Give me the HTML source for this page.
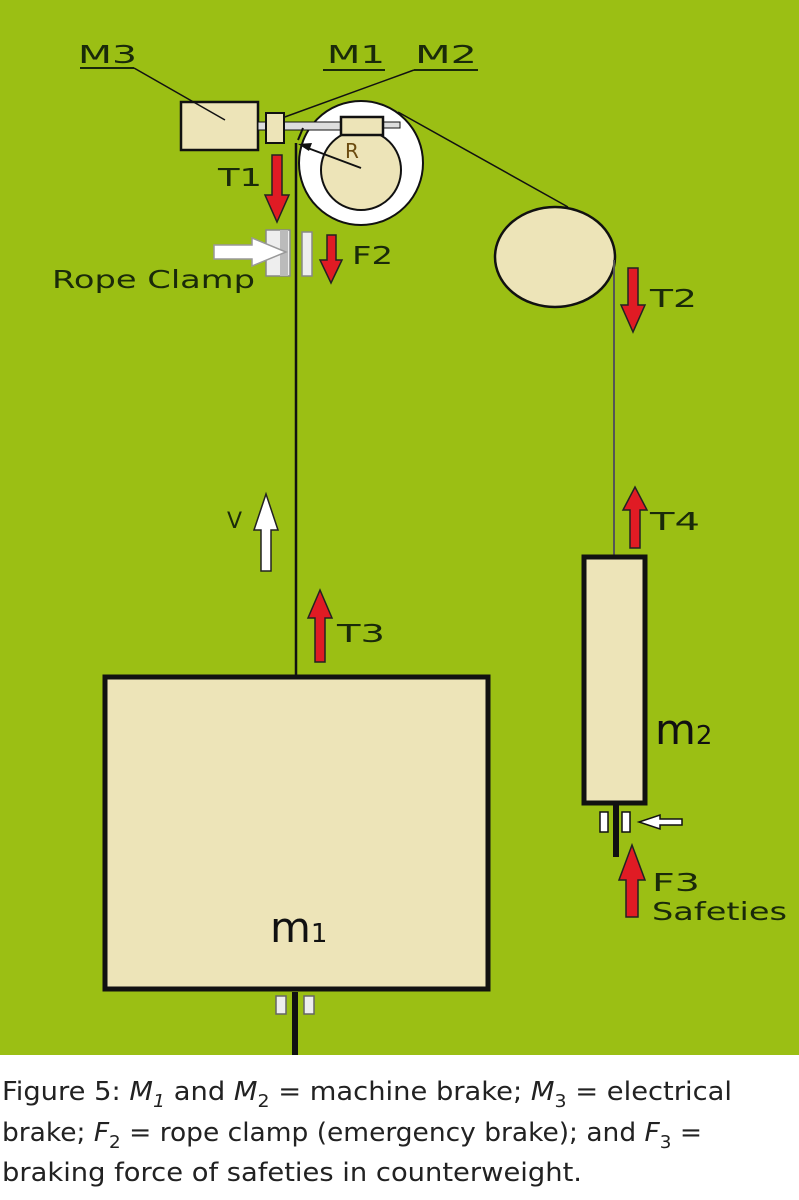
<!DOCTYPE html>
<html><head><meta charset="utf-8"><style>
html,body{margin:0;padding:0;background:#fff;}
svg{display:block;}
text{font-family:"DejaVu Sans","Liberation Sans",sans-serif;}
</style></head><body>
<svg width="799" height="1200" viewBox="0 0 799 1200" xmlns="http://www.w3.org/2000/svg">
<rect x="0" y="0" width="799" height="1055" fill="#9bbf14"/>
<g fill="#1a2a0a" font-size="25">
<text x="78" y="63" textLength="59" lengthAdjust="spacingAndGlyphs">M3</text>
<text x="327" y="63" textLength="58" lengthAdjust="spacingAndGlyphs">M1</text>
<text x="415" y="63" textLength="62" lengthAdjust="spacingAndGlyphs">M2</text>
</g>
<g stroke="#1a2a0a" stroke-width="2">
<line x1="80" y1="68" x2="134" y2="68"/>
<line x1="323" y1="70" x2="385" y2="70"/>
<line x1="414" y1="70" x2="478" y2="70"/>
</g>
<line x1="414" y1="70" x2="282" y2="118" stroke="#111" stroke-width="1.5"/>
<circle cx="361" cy="163" r="62" fill="#fff" stroke="#111" stroke-width="2"/>
<circle cx="361" cy="170" r="40" fill="#ede4b8" stroke="#111" stroke-width="2"/>
<rect x="181" y="102" width="77" height="48" fill="#ede4b8" stroke="#111" stroke-width="2.5"/>
<line x1="134" y1="68" x2="225" y2="120" stroke="#111" stroke-width="1.5"/>
<rect x="258" y="122" width="102" height="8" fill="#ddd" stroke="#111" stroke-width="1"/>
<rect x="360" y="122" width="40" height="6" fill="#ddd" stroke="#111" stroke-width="1"/>
<rect x="266" y="113" width="18" height="30" fill="#ede4b8" stroke="#111" stroke-width="2"/>
<rect x="341" y="117" width="42" height="18" fill="#ede4b8" stroke="#111" stroke-width="2.5"/>
<text x="345" y="158" font-size="20" fill="#6b4b10">R</text>
<line x1="361" y1="168" x2="305" y2="147" stroke="#111" stroke-width="2"/>
<polygon points="298,144 312,143 309,151" fill="#111"/>
<line x1="296" y1="143" x2="296" y2="677" stroke="#111" stroke-width="2.5"/>
<line x1="298" y1="140" x2="303" y2="128" stroke="#111" stroke-width="2"/>
<line x1="398" y1="112" x2="568" y2="207" stroke="#111" stroke-width="1.5"/>
<ellipse cx="555" cy="257" rx="60" ry="50" fill="#ede4b8" stroke="#111" stroke-width="2.5"/>
<line x1="614" y1="260" x2="614" y2="557" stroke="#555" stroke-width="2"/>
<g fill="#e01b24" stroke="#222" stroke-width="1.5">
<polygon points="272,155 282,155 282,195 289,195 277,222 265,195 272,195"/>
<polygon points="327,235 336,235 336,260 342,260 331,283 320,260 327,260"/>
<polygon points="628,268 638,268 638,305 645,305 633,332 621,305 628,305"/>
<polygon points="630,548 640,548 640,510 647,510 635,487 623,510 630,510"/>
<polygon points="315,662 325,662 325,618 332,618 320,590 308,618 315,618"/>
<polygon points="626,917 638,917 638,880 645,880 632,845 619,880 626,880"/>
</g>
<polygon points="261,571 271,571 271,530 278,530 266,494 254,530 261,530" fill="#fff" stroke="#222" stroke-width="1.5"/>
<g fill="#1a2a0a" font-size="25">
<text x="218" y="186" textLength="44" lengthAdjust="spacingAndGlyphs">T1</text>
<text x="352" y="264" textLength="41" lengthAdjust="spacingAndGlyphs">F2</text>
<text x="650" y="307" textLength="47" lengthAdjust="spacingAndGlyphs">T2</text>
<text x="650" y="530" textLength="50" lengthAdjust="spacingAndGlyphs">T4</text>
<text x="337" y="642" textLength="48" lengthAdjust="spacingAndGlyphs">T3</text>
<text x="227" y="528" font-size="22">V</text>
<text x="652" y="891" textLength="48" lengthAdjust="spacingAndGlyphs">F3</text>
<text x="652" y="920" textLength="135" lengthAdjust="spacingAndGlyphs">Safeties</text>
<text x="52" y="288" textLength="203" lengthAdjust="spacingAndGlyphs">Rope Clamp</text>
</g>
<rect x="266" y="230" width="24" height="46" fill="#eee" stroke="#888" stroke-width="1.5"/>
<rect x="280" y="230" width="8" height="46" fill="#bbb"/>
<rect x="302" y="232" width="10" height="44" fill="#eee" stroke="#888" stroke-width="1.5"/>
<polygon points="214,245 252,245 252,238 286,252 252,266 252,259 214,259" fill="#fff" stroke="#999" stroke-width="1.5"/>
<rect x="105" y="677" width="383" height="312" fill="#ede4b8" stroke="#111" stroke-width="5"/>
<text x="270" y="942" font-size="42" fill="#111">m<tspan font-size="26">1</tspan></text>
<line x1="295" y1="992" x2="295" y2="1055" stroke="#111" stroke-width="6"/>
<rect x="276" y="996" width="10" height="18" fill="#eee" stroke="#666" stroke-width="1.5"/>
<rect x="304" y="996" width="10" height="18" fill="#eee" stroke="#666" stroke-width="1.5"/>
<rect x="584" y="557" width="61" height="246" fill="#ede4b8" stroke="#111" stroke-width="5"/>
<text x="655" y="744" font-size="42" fill="#111">m<tspan font-size="26">2</tspan></text>
<line x1="616" y1="805" x2="616" y2="857" stroke="#111" stroke-width="6"/>
<rect x="600" y="812" width="8" height="20" fill="#fff" stroke="#111" stroke-width="1.5"/>
<rect x="622" y="812" width="8" height="20" fill="#fff" stroke="#111" stroke-width="1.5"/>
<polygon points="682,819 660,819 660,815 639,822 660,829 660,825 682,825" fill="#fff" stroke="#111" stroke-width="1.5"/>
<g fill="#222" font-size="26" style="font-family:'Liberation Sans Narrow','Liberation Sans',sans-serif">
<text x="2" y="1100" textLength="730" lengthAdjust="spacingAndGlyphs">Figure 5: <tspan font-style="italic">M</tspan><tspan font-size="18" dy="7" font-style="italic">1</tspan><tspan dy="-7"> and </tspan><tspan font-style="italic">M</tspan><tspan font-size="18" dy="7">2</tspan><tspan dy="-7"> = machine brake; </tspan><tspan font-style="italic">M</tspan><tspan font-size="18" dy="7">3</tspan><tspan dy="-7"> = electrical</tspan></text>
<text x="2" y="1141" textLength="700" lengthAdjust="spacingAndGlyphs">brake; <tspan font-style="italic">F</tspan><tspan font-size="18" dy="7">2</tspan><tspan dy="-7"> = rope clamp (emergency brake); and </tspan><tspan font-style="italic">F</tspan><tspan font-size="18" dy="7">3</tspan><tspan dy="-7"> =</tspan></text>
<text x="2" y="1181" textLength="580" lengthAdjust="spacingAndGlyphs">braking force of safeties in counterweight.</text>
</g>
</svg>
</body></html>
